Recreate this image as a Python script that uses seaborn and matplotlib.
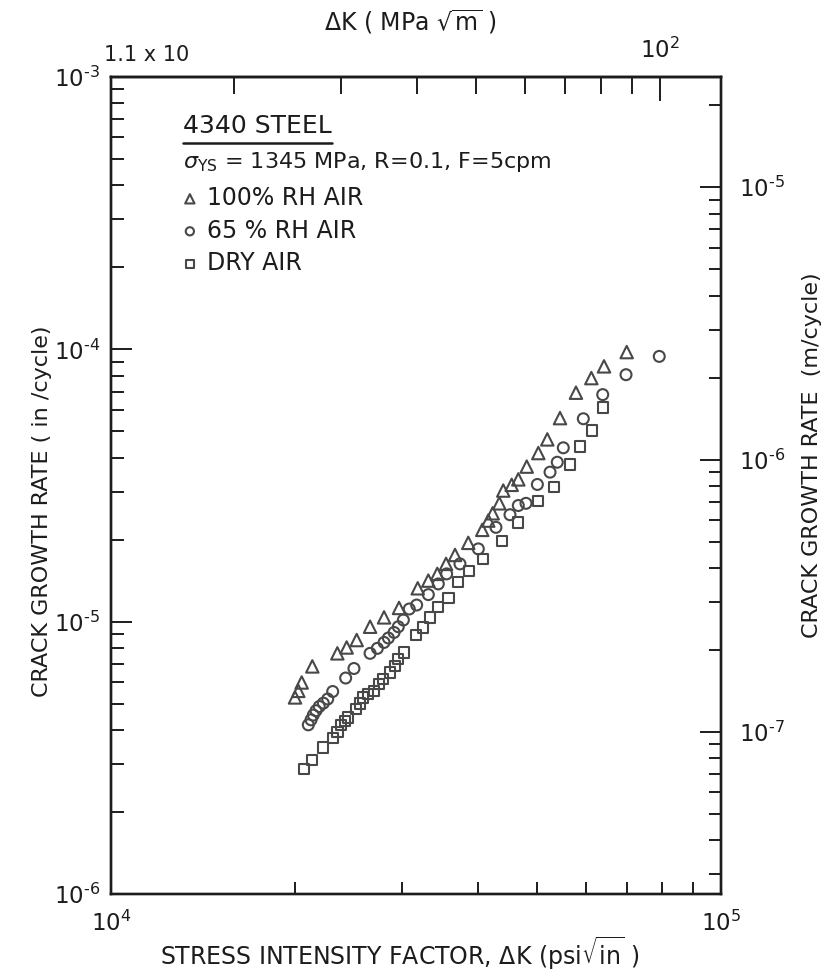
import numpy as np
import pandas as pd
import matplotlib
matplotlib.use("Agg")
import matplotlib.pyplot as plt
import seaborn as sns
from matplotlib.ticker import LogLocator, FixedLocator, NullFormatter, FixedFormatter, FuncFormatter
from matplotlib.lines import Line2D
from matplotlib.mathtext import MathTextParser

# ---------------- data ----------------
env_labels = ["100% RH AIR", "65 % RH AIR", "DRY AIR"]

dk_100 = [20030, 20280, 20540, 21380, 23500, 24340, 25280, 26590, 28030, 29660,
          31830, 33130, 34270, 35420, 36640, 38520, 40610, 41540, 42240, 43310,
          43960, 45380, 46530, 48030, 50180, 51910, 54460, 57840, 61300, 64300, 70050]
rate_100 = [5.27e-6, 5.57e-6, 5.98e-6, 6.85e-6, 7.65e-6, 8.04e-6, 8.56e-6, 9.58e-6, 1.037e-5, 1.123e-5,
            1.326e-5, 1.415e-5, 1.498e-5, 1.63e-5, 1.758e-5, 1.947e-5, 2.173e-5, 2.35e-5, 2.50e-5, 2.72e-5,
            3.03e-5, 3.18e-5, 3.33e-5, 3.71e-5, 4.16e-5, 4.67e-5, 5.59e-5, 6.93e-5, 7.84e-5, 8.66e-5, 9.77e-5]

dk_65 = [21060, 21280, 21460, 21680, 21950, 22290, 22660, 23090, 24250, 25020,
         26590, 27330, 28030, 28490, 29110, 29580, 30150, 30830, 31700, 33130,
         34400, 35500, 37330, 40010, 42760, 45090, 46530, 47900, 50000, 52450,
         53900, 55140, 59470, 63990, 69870, 79210]
rate_65 = [4.18e-6, 4.36e-6, 4.54e-6, 4.71e-6, 4.88e-6, 5.02e-6, 5.20e-6, 5.54e-6, 6.21e-6, 6.73e-6,
           7.65e-6, 7.98e-6, 8.39e-6, 8.71e-6, 9.13e-6, 9.58e-6, 1.014e-5, 1.113e-5, 1.151e-5, 1.257e-5,
           1.376e-5, 1.498e-5, 1.63e-5, 1.85e-5, 2.22e-5, 2.47e-5, 2.67e-5, 2.72e-5, 3.19e-5, 3.54e-5,
           3.85e-5, 4.35e-5, 5.56e-5, 6.82e-5, 8.07e-5, 9.42e-5]

dk_dry = [20720, 21330, 22240, 23090, 23500, 23800, 24180, 24490, 25210, 25590,
          25910, 26410, 26980, 27530, 27950, 28670, 29210, 29580, 30220, 31620,
          32510, 33340, 34400, 35730, 37090, 38670, 40760, 43700, 46530, 50180,
          53240, 56550, 58730, 61380, 64120]
rate_dry = [2.87e-6, 3.10e-6, 3.45e-6, 3.75e-6, 3.94e-6, 4.18e-6, 4.33e-6, 4.45e-6, 4.78e-6, 5.01e-6,
            5.27e-6, 5.42e-6, 5.57e-6, 5.90e-6, 6.16e-6, 6.51e-6, 6.89e-6, 7.29e-6, 7.71e-6, 8.94e-6,
            9.53e-6, 1.037e-5, 1.135e-5, 1.222e-5, 1.395e-5, 1.531e-5, 1.70e-5, 1.973e-5, 2.31e-5, 2.77e-5,
            3.13e-5, 3.78e-5, 4.40e-5, 5.04e-5, 6.11e-5]

x_major = [1e4, 1e5]
top_minor = [20, 30, 40, 50, 60, 70, 80, 90]
top_major = [100]
top_major_labels = [r"$10^2$"]

IN_TO_M = 0.0254
TOP_SCALE = 1.259e-3   # MPa*sqrt(m) per psi*sqrt(in), as the top scale is drawn

# ---------------- style ----------------
sns.set_theme(style="ticks")
plt.rcParams["font.family"] = ["DejaVu Sans"]
plt.rcParams["mathtext.fontset"] = "dejavusans"

ink = "#1c1c1c"
mk = "#484848"

HYPHEN = "\u2010"
try:
    MathTextParser("path").parse("$10^{" + HYPHEN + "5}$")
except Exception:
    HYPHEN = "-"


def pow10_label(v, pos):
    if v <= 0:
        return ""
    e = int(round(np.log10(v)))
    if e < 0:
        return "$10^{" + HYPHEN + str(-e) + "}$"
    return "$10^{" + str(e) + "}$"


fig = plt.figure(figsize=(8.29, 9.73), dpi=100)
ax = fig.add_axes([111 / 829, 1 - 894 / 973, 610 / 829, 817 / 973])

df = pd.concat([
    pd.DataFrame({"dk": dk_100, "rate": rate_100, "env": env_labels[0]}),
    pd.DataFrame({"dk": dk_65, "rate": rate_65, "env": env_labels[1]}),
    pd.DataFrame({"dk": dk_dry, "rate": rate_dry, "env": env_labels[2]}),
], ignore_index=True)

markers = {env_labels[0]: "^", env_labels[1]: "o", env_labels[2]: "s"}
sizes = {env_labels[0]: 80, env_labels[1]: 62, env_labels[2]: 55}
for env in env_labels:
    sub = df[df["env"] == env]
    sns.scatterplot(data=sub, x="dk", y="rate", marker=markers[env], s=sizes[env],
                    facecolors="none", edgecolor=mk, linewidth=1.5, ax=ax,
                    label=env, zorder=3)

ax.set_xscale("log")
ax.set_yscale("log")
ax.set_xlim(1e4, 1e5)
ax.set_ylim(1e-6, 1e-3)

ax.xaxis.set_major_locator(FixedLocator(x_major))
ax.xaxis.set_major_formatter(FuncFormatter(pow10_label))
ax.xaxis.set_minor_locator(LogLocator(base=10, subs=range(2, 10), numticks=20))
ax.xaxis.set_minor_formatter(NullFormatter())
ax.yaxis.set_major_locator(LogLocator(base=10, numticks=20))
ax.yaxis.set_major_formatter(FuncFormatter(pow10_label))
ax.yaxis.set_minor_locator(LogLocator(base=10, subs=range(2, 10), numticks=20))
ax.yaxis.set_minor_formatter(NullFormatter())

ax.tick_params(which="both", direction="in", top=False, right=False,
               color=ink, width=1.4, labelcolor=ink)
ax.tick_params(which="major", length=15, labelsize=16.5)
ax.tick_params(which="minor", length=9)
ax.tick_params(axis="y", which="major", pad=8)
ax.tick_params(axis="x", which="major", pad=12)

for sp in ax.spines.values():
    sp.set_linewidth(1.7)
    sp.set_color(ink)

ax.set_xlabel(r"STRESS INTENSITY FACTOR, $\Delta$K (psi$\sqrt{\mathrm{in}}$ )",
              fontsize=17, color=ink, va="center")
ax.xaxis.set_label_coords((400 - 111) / 610, (894 - 953) / 817)
ax.set_ylabel("CRACK GROWTH RATE ( in /cycle)", fontsize=16, color=ink, va="center")
ax.yaxis.set_label_coords((42 - 111) / 610, (894 - 511) / 817)

# ---------------- right axis: m/cycle ----------------
axr = ax.twinx()
axr.set_yscale("log")
axr.set_ylim(1e-6 * IN_TO_M, 1e-3 * IN_TO_M)
axr.yaxis.set_major_locator(LogLocator(base=10, numticks=20))
axr.yaxis.set_major_formatter(FuncFormatter(pow10_label))
axr.yaxis.set_minor_locator(LogLocator(base=10, subs=range(2, 10), numticks=20))
axr.yaxis.set_minor_formatter(NullFormatter())
axr.tick_params(which="both", direction="in", color=ink, width=1.4, labelcolor=ink)
axr.tick_params(which="major", length=15, labelsize=16.5, pad=13)
axr.tick_params(which="minor", length=9)
for sp in axr.spines.values():
    sp.set_linewidth(1.7)
    sp.set_color(ink)
axr.set_ylabel("CRACK GROWTH RATE  (m/cycle)", fontsize=16, color=ink,
               rotation=90, va="center")
axr.yaxis.set_label_coords((812 - 111) / 610, (894 - 455) / 817)

# ---------------- top axis: MPa sqrt(m) ----------------
secax = ax.secondary_xaxis("top", functions=(lambda k: k * TOP_SCALE,
                                              lambda m: m / TOP_SCALE))
secax.xaxis.set_major_locator(FixedLocator(top_major))
secax.xaxis.set_major_formatter(FixedFormatter(top_major_labels))
secax.xaxis.set_minor_locator(FixedLocator(top_minor))
secax.xaxis.set_minor_formatter(NullFormatter())
secax.tick_params(which="both", direction="in", color=ink, width=1.4, labelcolor=ink)
secax.tick_params(which="major", length=17, labelsize=16.5, pad=10)
secax.tick_params(which="minor", length=12)
for sp in secax.spines.values():
    sp.set_linewidth(1.7)
    sp.set_color(ink)

fig.text(411 / 829, 1 - 22 / 973, r"$\Delta$K ( MPa $\sqrt{\mathrm{m}}$ )",
         ha="center", va="center", fontsize=17, color=ink)
fig.text(104 / 829, 1 - 55 / 973, "1.1 x 10", ha="left", va="center",
         fontsize=15, color=ink)

# ---------------- annotation block ----------------
t1 = ax.text((183 - 111) / 610, (894 - 133) / 817, "4340 STEEL", transform=ax.transAxes,
             fontsize=18, color=ink, ha="left", va="baseline")
ax.text((183 - 111) / 610, (894 - 168) / 817,
        r"$\sigma_{\mathrm{YS}}$ = 1345 MPa, R=0.1, F=5cpm",
        transform=ax.transAxes, fontsize=16, color=ink, ha="left", va="baseline")

leg = ax.legend(loc="upper left", bbox_to_anchor=((181 - 111) / 610, (894 - 186) / 817),
                frameon=False, fontsize=17, handletextpad=0.35, labelspacing=0.36,
                borderpad=0, borderaxespad=0, handlelength=0.75, markerscale=0.75)
for txt in leg.get_texts():
    txt.set_color(ink)

# underline "4340 STEEL"
fig.canvas.draw()
bb = t1.get_window_extent()
inv = fig.transFigure.inverted()
(x0, y0), (x1, _) = inv.transform([(bb.x0, bb.y0 - 5), (bb.x1, bb.y0 - 5)])
fig.add_artist(Line2D([x0, x1], [y0, y0], transform=fig.transFigure, color=ink, lw=1.8))

fig.savefig("out.png", dpi=100)
